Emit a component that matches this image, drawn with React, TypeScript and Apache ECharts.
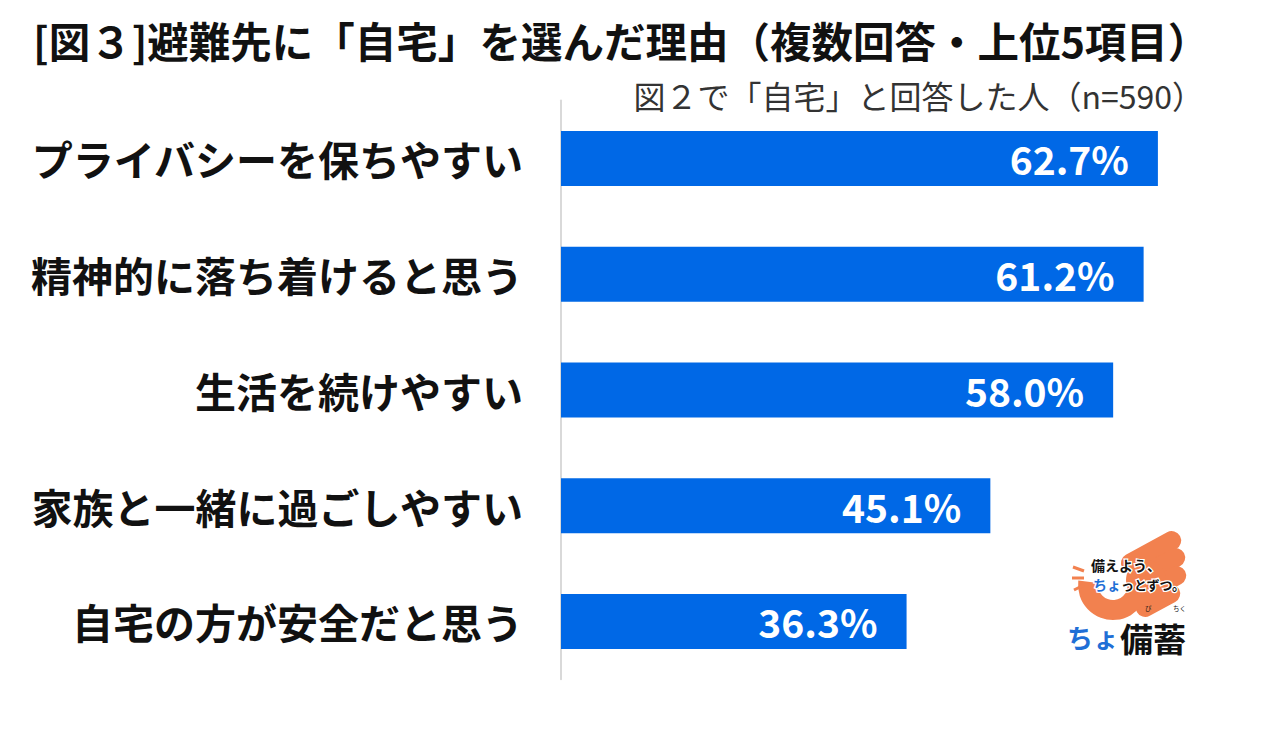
import React, { useEffect, useRef } from "react";
import * as echarts from "echarts";

const categories = [
  "プライバシーを保ちやすい",
  "精神的に落ち着けると思う",
  "生活を続けやすい",
  "家族と一緒に過ごしやすい",
  "自宅の方が安全だと思う",
];
const values = [62.7, 61.2, 58.0, 45.1, 36.3];
const titleText = "[図３]避難先に「自宅」を選んだ理由（複数回答・上位5項目）";
const subtitleText = "図２で「自宅」と回答した人（n=590）";

const JP = '"Noto Sans CJK JP", "Noto Sans", sans-serif';
const BAR = "#0068e6";
const ORANGE = "#f2814f";
const LOGO_BLUE = "#1f6fd6";

function fingers() {
  const tips = [
    [1180, 536],
    [1184, 553],
    [1185, 571],
    [1179, 589],
  ];
  return tips.map(([x, y], i) => ({
    type: "group",
    x,
    y,
    rotation: 0.5,
    children: [
      {
        type: "rect",
        shape: { x: -66 + i * 6, y: -9.5, width: 66 - i * 6, height: 19, r: 9.5 },
        style: { fill: ORANGE },
      },
    ],
  }));
}

export default function App() {
  const ref = useRef<HTMLDivElement>(null);
  useEffect(() => {
    document.body.style.margin = "0";
    if (!ref.current) return;
    const chart = echarts.init(ref.current, null, { renderer: "svg" });
    chart.setOption({
      animation: false,
      backgroundColor: "#ffffff",
      title: [
        {
          text: titleText,
          left: 28,
          top: 14,
          textStyle: { fontFamily: JP, fontSize: 41.5, fontWeight: "bold", color: "#111" },
        },
        {
          text: subtitleText,
          right: 70,
          top: 74,
          textStyle: { fontFamily: JP, fontSize: 32, fontWeight: "normal", color: "#333" },
        },
      ],
      grid: {
        left: 561,
        top: 100.6,
        width: 666.4,
        height: 578.75,
        outerBoundsMode: "none",
      },
      xAxis: {
        type: "value",
        min: 0,
        max: 70,
        show: false,
        splitLine: { show: false },
      },
      yAxis: {
        type: "category",
        inverse: true,
        data: categories,
        axisLine: { show: true, lineStyle: { color: "#d9d9d9", width: 2 } },
        axisTick: { show: false },
        axisLabel: {
          fontFamily: JP,
          fontSize: 41,
          fontWeight: "bold",
          color: "#111",
          margin: 38,
        },
      },
      series: [
        {
          type: "bar",
          data: values,
          barWidth: 55,
          itemStyle: { color: BAR },
          label: {
            show: true,
            position: "insideRight",
            distance: 29,
            formatter: (p: any) => p.value.toFixed(1) + "%",
            color: "#fff",
            fontFamily: JP,
            fontSize: 39,
            fontWeight: "bold",
          },
        },
      ],
      graphic: [
        ...fingers(),
        { type: "circle", shape: { cx: 1146, cy: 580, r: 20 }, style: { fill: ORANGE } },
        {
          type: "sector",
          shape: { cx: 1113, cy: 585, r0: 15, r: 35, startAngle: -0.3, endAngle: Math.PI * 1.04, clockwise: true },
          style: { fill: ORANGE },
        },
        { type: "line", shape: { x1: 1084, y1: 571, x2: 1073, y2: 567 }, style: { stroke: ORANGE, lineWidth: 3 } },
        { type: "line", shape: { x1: 1084, y1: 578, x2: 1072, y2: 578 }, style: { stroke: ORANGE, lineWidth: 3 } },
        { type: "line", shape: { x1: 1084, y1: 585, x2: 1074, y2: 590 }, style: { stroke: ORANGE, lineWidth: 3 } },
        {
          type: "text",
          x: 1091,
          y: 558,
          style: {
            text: "備えよう、",
            fontFamily: JP,
            fontSize: 14,
            fontWeight: "bold",
            fill: "#111",
            stroke: "#fff",
            lineWidth: 2.5,
          },
        },
        {
          type: "text",
          x: 1093,
          y: 577,
          style: {
            text: "ちょ",
            fontFamily: JP,
            fontSize: 14,
            fontWeight: "bold",
            fill: LOGO_BLUE,
            stroke: "#fff",
            lineWidth: 2.5,
          },
        },
        {
          type: "text",
          x: 1121,
          y: 578,
          style: {
            text: "っとずつ。",
            fontFamily: JP,
            fontSize: 13,
            fontWeight: "bold",
            fill: "#111",
            stroke: "#fff",
            lineWidth: 2.5,
          },
        },
        {
          type: "text",
          x: 1067,
          y: 623,
          style: { text: "ちょ", fontFamily: JP, fontSize: 26, fontWeight: "bold", fill: LOGO_BLUE },
        },
        {
          type: "text",
          x: 1120,
          y: 621,
          style: { text: "備蓄", fontFamily: JP, fontSize: 33, fontWeight: "bold", fill: "#111" },
        },
        {
          type: "text",
          x: 1145,
          y: 605,
          style: { text: "び", fontFamily: JP, fontSize: 6.5, fill: "#111" },
        },
        {
          type: "text",
          x: 1173,
          y: 605,
          style: { text: "ちく", fontFamily: JP, fontSize: 6.5, fill: "#111" },
        },
      ],
    });
    return () => chart.dispose();
  }, []);
  return <div ref={ref} style={{ width: 1279, height: 730 }} />;
}
